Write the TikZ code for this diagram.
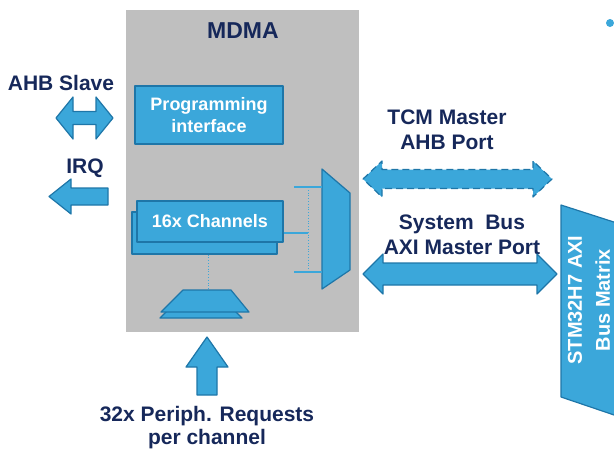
\documentclass[tikz,border=0pt]{standalone}
\usepackage{fontspec}
\setmainfont{Liberation Sans}
\definecolor{mdmablue}{RGB}{59,167,218}
\definecolor{mdmaedge}{RGB}{30,118,168}
\definecolor{mdmagray}{RGB}{191,191,191}
\definecolor{navy}{RGB}{22,40,90}
\tikzset{
  blk/.style={fill=mdmablue, draw=mdmaedge, line width=1.2pt, line join=round},
  lbl/.style={text=navy, font=\fontsize{21}{25}\selectfont\bfseries, align=center, inner sep=0pt},
  boxlbl/.style={text=white, font=\fontsize{18}{22}\selectfont\bfseries, align=center},
  wire/.style={draw=mdmablue, line width=1.5pt},
  dots/.style={draw=mdmablue, line width=0.8pt, dotted},
}
% horizontal block double arrow: style, x left, x right, y centre, half shaft, half head, head length
\newcommand\hdblarrow[7]{%
  \path[#1] (#2,#4) -- ({#2+#7},{#4-#6}) -- ({#2+#7},{#4-#5}) -- ({#3-#7},{#4-#5})
    -- ({#3-#7},{#4-#6}) -- (#3,#4) -- ({#3-#7},{#4+#6}) -- ({#3-#7},{#4+#5})
    -- ({#2+#7},{#4+#5}) -- ({#2+#7},{#4+#6}) -- cycle;}
\begin{document}
\begin{tikzpicture}[x=1pt,y=-1pt]
\useasboundingbox (0,0) rectangle (614,456);
\clip (0,0) rectangle (614,456);

% MDMA block
\node[fill=mdmagray, minimum width=233pt, minimum height=322pt, anchor=north west, inner sep=0pt] (mdma) at (126,10) {};
\node[lbl, font=\fontsize{23}{27}\selectfont\bfseries] (title) at (243,31) {MDMA};

% programming interface
\node[blk, boxlbl, minimum width=148pt, minimum height=58pt] (prog) at (209,115) {Programming\\interface};

% channel stack
\node[blk, minimum width=145pt, minimum height=42pt] (chback) at (204.5,233) {};
\node[blk, boxlbl, minimum width=146pt, minimum height=41pt] (chan) at (210,221.5) {16x Channels};

% request selector (stacked trapezoids)
\path[blk] (160,318) -- (182,296) -- (220,296) -- (242,318) -- cycle;
\path[blk] (161,312) -- (183,290) -- (231,290) -- (249,312) -- cycle;
\coordinate (reqtop) at (208,290);
\draw[dots] (reqtop |- chback.south) -- (reqtop);

% output multiplexer
\path[blk] (322,169) -- (350,193) -- (350,270) -- (322,289) -- cycle;
\coordinate (muxa) at (322,187);
\coordinate (muxb) at (322,272);
\coordinate (tap) at (308,233);
\draw[wire] (294,187) -- (muxa);
\draw[wire] (294,272) -- (muxb);
\draw[dots] (308,187) -- (308,272);
\draw[wire] (tap -| chan.east) -- (tap);

% bus matrix
\path[blk] (561,205) -- (620,224) -- (620,417) -- (561,397) -- cycle;
\node[rotate=90, text=white, font=\fontsize{20}{28}\selectfont\bfseries, align=center] (busmx) at (589,300) {STM32H7 AXI\\Bus Matrix};

% ports
\node[lbl] (ahb) at (61,83) {AHB Slave};
\hdblarrow{blk}{56}{113}{118}{6.5}{21}{17}

\node[lbl] (irq) at (85,168) {IRQ};
\path[blk] (49,196.5) -- (71,179) -- (71,188) -- (108,188) -- (108,205) -- (71,205) -- (71,214) -- cycle;

\node[lbl] (tcm) at (447,130) {TCM Master\\AHB Port};
\hdblarrow{blk,dash pattern=on 7pt off 4pt}{363}{552}{179}{9.5}{18}{19}

\node[lbl] (axi) at (462,235) {System~~Bus\\AXI Master Port};
\hdblarrow{blk}{363}{557}{274}{11}{20}{20}

\path[blk] (207,337) -- (228,367) -- (217,367) -- (217,395) -- (197,395) -- (197,367) -- (186,367) -- cycle;
\node[lbl, font=\fontsize{21}{23}\selectfont\bfseries] (req) at (207,428) {32x Periph. Requests\\per channel};

\node[circle, fill=mdmablue, minimum size=8pt, inner sep=0pt] (dot) at (610,23) {};
\end{tikzpicture}
\end{document}
